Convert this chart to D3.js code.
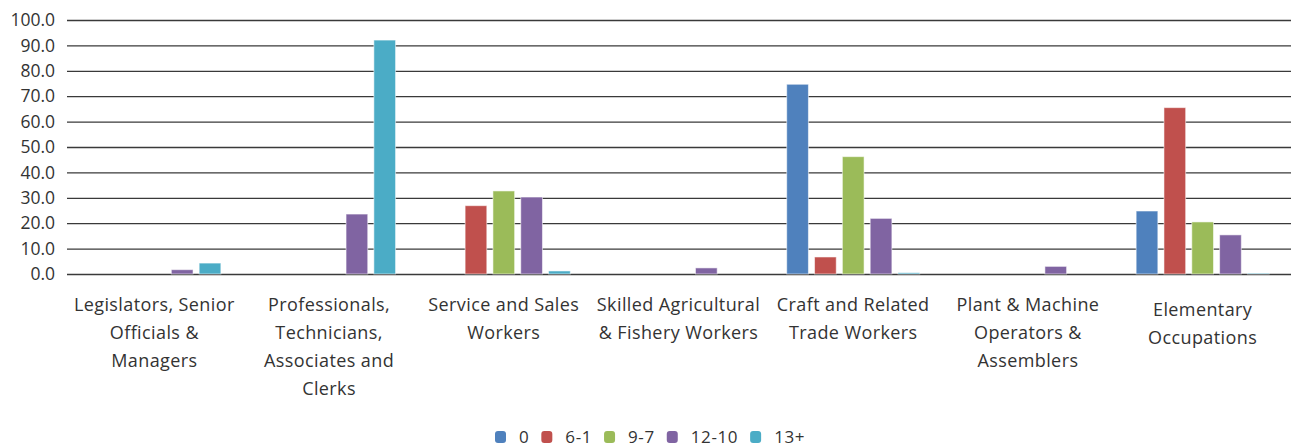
<!DOCTYPE html>
<html>
<head>
<meta charset="utf-8">
<script src="https://cdn.jsdelivr.net/npm/d3@7"></script>
<style>
  html, body { margin: 0; padding: 0; background: #fff; }
  svg { display: block; font-family: "Open Sans", Roboto, sans-serif; }
</style>
</head>
<body>
<svg id="chart" width="1291" height="447"></svg>
<script>
// Occupation groups (label lines)
const categories = [
  ["Legislators, Senior", "Officials &", "Managers"],
  ["Professionals,", "Technicians,", "Associates and", "Clerks"],
  ["Service and Sales", "Workers"],
  ["Skilled Agricultural", "& Fishery Workers"],
  ["Craft and Related", "Trade Workers"],
  ["Plant & Machine", "Operators &", "Assemblers"],
  ["Elementary", "Occupations"]
];

// Years-of-schooling groups
const seriesNames = ["0", "6-1", "9-7", "12-10", "13+"];
const seriesColors = ["#4F81BD", "#C0504D", "#9BBB59", "#8064A2", "#4BACC6"];

// Share (%) per series, one value per occupation group
const values0     = [0,   0,    0,    0,   74.7, 0,   24.8];
const values6_1   = [0,   0,    26.9, 0,   6.7,  0,   65.5];
const values9_7   = [0,   0,    32.7, 0,   46.2, 0,   20.5];
const values12_10 = [1.7, 23.6, 30.3, 2.4, 21.9, 3.0, 15.4];
const values13p   = [4.3, 92.1, 1.2,  0,   0.5,  0,   0.3];
const seriesValues = [values0, values6_1, values9_7, values12_10, values13p];

const yTicks = [0, 10, 20, 30, 40, 50, 60, 70, 80, 90, 100];

const TEXT = "#333";

const svg = d3.select("#chart");
const margin = { left: 67, right: 0, top: 20, bottom: 173 };
const W = 1291, H = 447;
const plotBottom = H - margin.bottom; // 274

const x0 = d3.scaleBand()
  .domain(d3.range(categories.length))
  .range([margin.left, W - 1])
  .paddingInner(0).paddingOuter(0);

const x1 = d3.scaleBand()
  .domain(d3.range(seriesNames.length))
  .range([0, 133])
  .paddingInner(0.22).paddingOuter(0);

const y = d3.scaleLinear().domain([0, 100]).range([plotBottom, margin.top]);

// Gridlines (the 0 line doubles as the baseline)
const grid = svg.append("g")
  .attr("transform", `translate(${margin.left},0)`)
  .call(d3.axisLeft(y).tickValues(yTicks).tickSize(-(W - margin.left)).tickFormat(""));
grid.select(".domain").remove();
grid.selectAll(".tick line").attr("stroke", "#3a3a3a").attr("stroke-width", 1.3);

// Y tick labels
const yAxis = svg.append("g")
  .attr("transform", `translate(${margin.left},0)`)
  .call(d3.axisLeft(y).tickValues(yTicks).tickSize(0).tickPadding(12).tickFormat(d3.format(".1f")));
yAxis.select(".domain").remove();
yAxis.selectAll("text")
  .attr("font-size", 17.5)
  .attr("fill", TEXT)
  .style("font-family", "'Open Sans', sans-serif");

// Bars
const groups = svg.append("g").selectAll("g")
  .data(categories.map((c, i) => i))
  .join("g")
  .attr("transform", i => `translate(${x0(i) + x0.bandwidth() / 2 - 66.5},0)`);

groups.selectAll("rect")
  .data(i => seriesValues.map((vals, s) => ({ s, v: vals[i] })).filter(d => d.v > 0))
  .join("rect")
  .attr("x", d => x1(d.s))
  .attr("width", x1.bandwidth())
  .attr("y", d => y(d.v))
  .attr("height", d => plotBottom - y(d.v))
  .attr("fill", d => seriesColors[d.s])
  .attr("stroke", "rgba(255,255,255,0.55)")
  .attr("stroke-width", 1);

// Category labels
const labelTop = [305, 305, 305, 305, 305, 305, 310];
const lab = svg.append("g").selectAll("text")
  .data(categories)
  .join("text")
  .attr("text-anchor", "middle")
  .attr("font-size", 18)
  .attr("letter-spacing", 0.4)
  .attr("fill", TEXT)
  .attr("x", (d, i) => x0(i) + x0.bandwidth() / 2)
  .attr("y", (d, i) => labelTop[i]);
lab.selectAll("tspan")
  .data(d => d)
  .join("tspan")
  .attr("x", function () { return this.parentNode.getAttribute("x"); })
  .attr("dy", (d, k) => k === 0 ? "0.35em" : 28)
  .text(d => d);

// Legend
const legend = svg.append("g").attr("transform", `translate(0,437)`);
let lx = 495;
seriesNames.forEach((name, s) => {
  const g = legend.append("g").attr("transform", `translate(${lx},0)`);
  g.append("rect")
    .attr("x", 0).attr("y", -6).attr("width", 11).attr("height", 12)
    .attr("rx", 3).attr("fill", seriesColors[s]);
  const t = g.append("text")
    .attr("x", 24).attr("dy", "0.33em")
    .attr("font-size", 17)
    .attr("letter-spacing", 0.6)
    .attr("fill", TEXT)
    .text(name);
  lx += 24 + t.node().getComputedTextLength() + 12;
});
</script>
</body>
</html>
